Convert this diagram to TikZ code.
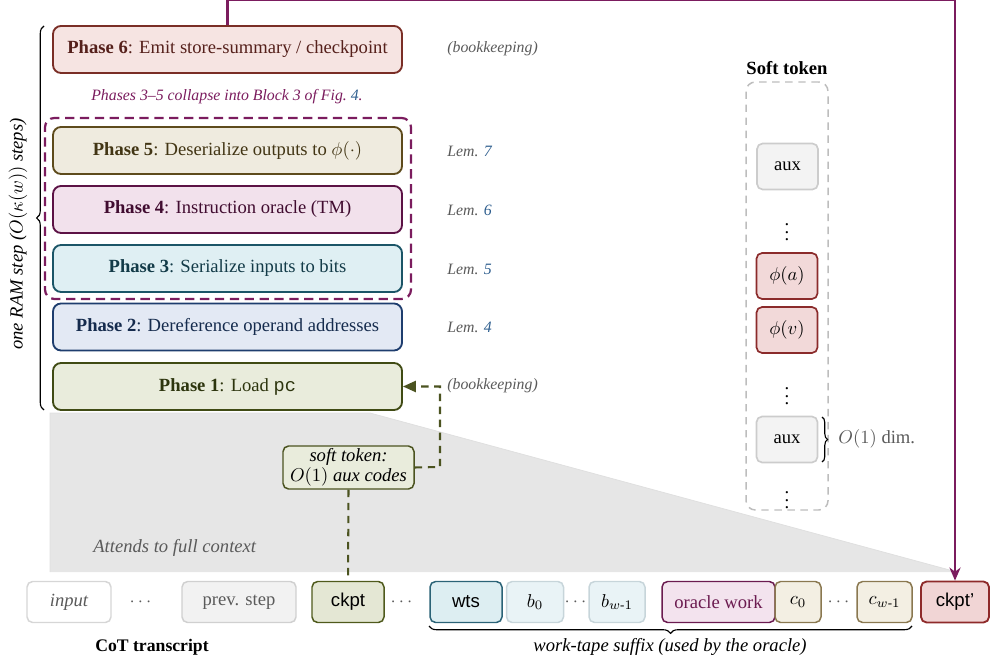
\documentclass[tikz,border=0pt]{standalone}
\usepackage{amsmath}
\usepackage[no-math]{fontspec}
\setmainfont{Liberation Serif}
\setsansfont{Liberation Sans}
\setmonofont{Liberation Mono}
\usetikzlibrary{arrows.meta,decorations.pathreplacing,calc}
\def\pxu{0.5376pt}
\definecolor{pSixF}{HTML}{F6E4E2}\definecolor{pSixD}{HTML}{7A2E26}
\definecolor{pFiveF}{HTML}{EFEBDF}\definecolor{pFiveD}{HTML}{5E4B1C}
\definecolor{pFourF}{HTML}{F2E1EC}\definecolor{pFourD}{HTML}{5C1245}
\definecolor{pThreeF}{HTML}{DFEFF3}\definecolor{pThreeD}{HTML}{1B5567}
\definecolor{pTwoF}{HTML}{E3E9F4}\definecolor{pTwoD}{HTML}{1E3D6E}
\definecolor{pOneF}{HTML}{E9ECDC}\definecolor{pOneD}{HTML}{404B14}
\definecolor{purp}{HTML}{7B1C5E}
\definecolor{refblue}{HTML}{2E5E8E}
\definecolor{olivec}{HTML}{4B5320}
\definecolor{phiF}{HTML}{F2D9D9}\definecolor{phiD}{HTML}{8B2B2B}
\definecolor{auxF}{HTML}{F3F3F3}\definecolor{auxD}{HTML}{CCCCCC}
\definecolor{ckF}{HTML}{E4E7D4}\definecolor{ckD}{HTML}{4F5A1C}
\definecolor{wtsF}{HTML}{DDEEF2}\definecolor{wtsD}{HTML}{2B6377}
\definecolor{bF}{HTML}{E9F3F6}\definecolor{bD}{HTML}{C7D5DA}
\definecolor{orF}{HTML}{F3E3EE}\definecolor{orD}{HTML}{6B1B50}
\definecolor{cF}{HTML}{F3EFE3}\definecolor{cD}{HTML}{8A7850}
\definecolor{ckpF}{HTML}{F1D5D5}\definecolor{ckpD}{HTML}{8E2A2A}
\definecolor{prevF}{HTML}{F2F2F2}\definecolor{prevD}{HTML}{D0D0D0}
\definecolor{inD}{HTML}{D6D6D6}
\definecolor{attn}{HTML}{E6E6E6}
\definecolor{annot}{HTML}{5A5A5A}
\definecolor{stD}{HTML}{BDBDBD}
\begin{document}
\begin{tikzpicture}[x=\pxu,y=-\pxu,
  phase/.style={draw, rounded corners=4.3pt, line width=1pt, minimum width=349*\pxu,
     minimum height=47*\pxu, inner sep=0pt, font=\fontsize{10}{12}\selectfont},
  anno/.style={anchor=west, inner sep=0pt, text=annot, font=\fontsize{8.5}{10}\selectfont\itshape},
  tok/.style={draw, rounded corners=3pt, line width=0.8pt, minimum height=41*\pxu,
     inner sep=0pt, font=\fontsize{10}{12}\selectfont},
  stok/.style={draw, rounded corners=3pt, line width=0.9pt, minimum width=61*\pxu,
     minimum height=46*\pxu, inner sep=0pt, font=\fontsize{10}{12}\selectfont},
  dotsn/.style={inner sep=0pt, text=annot, font=\fontsize{10}{12}\selectfont},
  vdotsn/.style={inner sep=0pt, font=\fontsize{10}{12}\selectfont},
  olivedash/.style={draw=olivec, line width=1.1pt, dash pattern=on 4pt off 3pt},
  purpline/.style={draw=purp, line width=1.3pt}
]
\useasboundingbox (0,0) rectangle (990,661);

% attention region
\fill[attn] (50,413) -- (370,413) -- (957,572) -- (50,572) -- cycle;
\draw[gray!25, line width=0.4pt] (50,572) -- (50,413) -- (370,413) -- (957,572);
\node[anchor=west, inner sep=0pt, text=annot, font=\fontsize{10}{12}\selectfont\itshape] (att) at (93,548) {Attends to full context};

% phases
\node[phase, fill=pSixF, draw=pSixD, text=pSixD!70!black] (p6) at (227.5,49.5) {\textbf{Phase 6}: Emit store-summary / checkpoint};
\node[inner sep=0pt, text=purp, font=\fontsize{8.5}{10}\selectfont\itshape] (note) at (227,97) {Phases 3--5 collapse into Block 3 of Fig.~\textcolor{refblue}{4}.};
\node[draw=purp, line width=1.2pt, dash pattern=on 5pt off 3pt, rounded corners=5pt,
   minimum width=366*\pxu, minimum height=181*\pxu, inner sep=0pt] (grp) at (228,208.5) {};
\node[phase, fill=pFiveF, draw=pFiveD, text=pFiveD!70!black] (p5) at (227.5,150.5) {\textbf{Phase 5}: Deserialize outputs to $\phi(\cdot)$};
\node[phase, fill=pFourF, draw=pFourD, text=pFourD!70!black] (p4) at (227.5,209.5) {\textbf{Phase 4}: Instruction oracle (TM)};
\node[phase, fill=pThreeF, draw=pThreeD, text=pThreeD!70!black] (p3) at (227.5,268.5) {\textbf{Phase 3}: Serialize inputs to bits};
\node[phase, fill=pTwoF, draw=pTwoD, text=pTwoD!70!black] (p2) at (227.5,327) {\textbf{Phase 2}: Dereference operand addresses};
\node[phase, fill=pOneF, draw=pOneD, text=pOneD!70!black] (p1) at (227.5,386.5) {\textbf{Phase 1}: Load \texttt{pc}};

% annotations
\node[anno] (a6) at (447,49) {(bookkeeping)};
\node[anno] (a5) at (447,151) {Lem. \textcolor{refblue}{7}};
\node[anno] (a4) at (447,210) {Lem. \textcolor{refblue}{6}};
\node[anno] (a3) at (447,269) {Lem. \textcolor{refblue}{5}};
\node[anno] (a2) at (447,327) {Lem. \textcolor{refblue}{4}};
\node[anno] (a1) at (447,386) {(bookkeeping)};

% left brace
\coordinate (brB) at (44,410);
\coordinate (brT) at (44,26);
\draw[decorate, decoration={brace, amplitude=4pt}, line width=0.6pt] (brB) -- (brT);
\node[rotate=90, inner sep=0pt, font=\fontsize{10}{12}\selectfont\itshape] (ramtxt) at (18,234) {one RAM step ($O(\kappa(w))$ steps)};

% soft token column
\node[font=\fontsize{10}{12}\selectfont\bfseries, inner sep=0pt] (sthead) at (787,68) {Soft token};
\node[draw=stD, line width=0.8pt, dash pattern=on 4pt off 3pt, rounded corners=5pt,
   minimum width=82*\pxu, minimum height=428*\pxu, inner sep=0pt] (stbox) at (787,296) {};
\node[stok, fill=auxF, draw=auxD] (aux1) at (787.5,166.5) {aux};
\node[vdotsn] (vd1) at (787,227) {$\vdots$};
\node[stok, fill=phiF, draw=phiD] (phia) at (787,276) {$\phi(a)$};
\node[stok, fill=phiF, draw=phiD] (phiv) at (787,330) {$\phi(v)$};
\node[vdotsn] (vd2) at (787,391) {$\vdots$};
\node[stok, fill=auxF, draw=auxD] (aux2) at (787,439.5) {aux};
\node[vdotsn] (vd3) at (787,495) {$\vdots$};
\coordinate (obT) at (822,417);
\coordinate (obB) at (822,462);
\draw[decorate, decoration={brace, amplitude=3pt}, line width=0.6pt] (obT) -- (obB);
\node[anno, font=\fontsize{10}{12}\selectfont] (odim) at (838,439) {$O(1)$ dim.};

% bottom row
\node[tok, fill=white, draw=inD, minimum width=84*\pxu, text=annot, font=\fontsize{10}{12}\selectfont\itshape] (inp) at (69,602) {input};
\node[dotsn] (d1) at (142,602) {$\cdots$};
\node[tok, fill=prevF, draw=prevD, minimum width=114*\pxu, text=annot] (prev) at (239,602) {prev. step};
\node[tok, fill=ckF, draw=ckD, minimum width=72*\pxu, font=\fontsize{10}{12}\selectfont\sffamily] (ckpt) at (348,602) {ckpt};
\node[dotsn] (d2) at (403,602) {$\cdots$};
\node[tok, fill=wtsF, draw=wtsD, minimum width=72*\pxu, font=\fontsize{10}{12}\selectfont\sffamily] (wts) at (466,602) {wts};
\node[tok, fill=bF, draw=bD, minimum width=57*\pxu] (b0) at (535,602) {$b_0$};
\node[dotsn] (d3) at (577,602) {$\cdots$};
\node[tok, fill=bF, draw=bD, minimum width=56*\pxu] (bw) at (617,602) {$b_{w\text{-}1}$};
\node[tok, fill=orF, draw=orD, minimum width=113*\pxu, text=orD] (orc) at (718.5,602) {oracle work};
\node[tok, fill=cF, draw=cD, minimum width=46*\pxu] (c0) at (798,602) {$c_0$};
\node[dotsn] (d4) at (840,602) {$\cdots$};
\node[tok, fill=cF, draw=cD, minimum width=55*\pxu] (cw) at (884.5,602) {$c_{w\text{-}1}$};
\node[tok, fill=ckpF, draw=ckpD, line width=1pt, minimum width=68*\pxu, font=\fontsize{10}{12}\selectfont\sffamily] (ckptp) at (955,602) {ckpt'};

\node[font=\fontsize{9.5}{11}\selectfont\bfseries, inner sep=0pt] (cot) at (152,647) {CoT transcript};
\coordinate (wbR) at (912,626);
\coordinate (wbL) at (429,626);
\draw[decorate, decoration={brace, amplitude=4pt}, line width=0.6pt] (wbR) -- (wbL);
\node[inner sep=0pt, font=\fontsize{10}{12}\selectfont\itshape] (wtxt) at (670,647) {work-tape suffix (used by the oracle)};

% soft token box and connectors
\node[draw=olivec, fill=pOneF, rounded corners=3pt, line width=0.8pt, minimum width=131*\pxu,
   minimum height=43*\pxu, inner sep=0pt, align=center,
   font=\fontsize{10}{11}\selectfont\itshape] (soft) at (348.5,467.5) {soft token:\\$O(1)$ aux codes};
\draw[olivedash] (soft.south) -- (ckpt.north);
\coordinate (bend) at (440,467);
\draw[olivedash, -{Triangle[length=7pt,width=6pt,fill=olivec]}] (soft.east) -- (bend) |- (p1.east);

% purple checkpoint arrow
\coordinate (topc) at (957,-0.6);
\draw[purpline, -{Stealth[length=7pt,width=6pt]}] (p6.north) -- (p6.north |- topc) -| (ckptp.north);
\end{tikzpicture}
\end{document}
